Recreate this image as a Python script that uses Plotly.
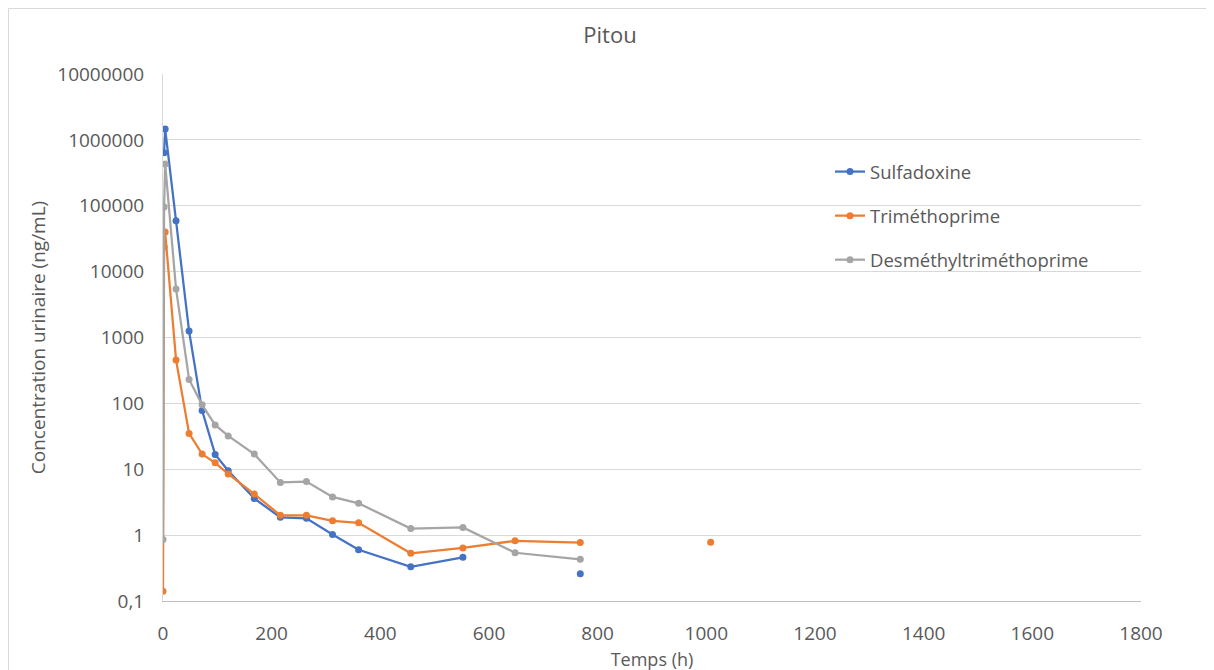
import plotly.graph_objects as go

# Data (time in hours, urinary concentration in ng/mL)
temps = [0, 2, 4, 24, 48, 72, 96, 120, 168, 216, 264, 312, 360, 456, 552, 648, 768, 864, 1008]
sulfadoxine = [None, 640000, 1460000, 59000, 1250, 78, 16.8, 9.5, 3.6, 1.86, 1.8, 1.02, 0.6, 0.33, 0.46, None, 0.26, None, None]
trimethoprime = [0.14, 23800, 39800, 457, 35, 17, 12.5, 8.5, 4.2, 2.0, 2.0, 1.65, 1.54, 0.53, 0.64, 0.82, 0.77, None, 0.78]
desmethyl = [0.86, 96000, 430000, 5450, 231, 95, 47, 32, 17, 6.3, 6.5, 3.8, 3.04, 1.26, 1.31, 0.54, 0.43, None, None]

series_names = ["Sulfadoxine", "Triméthoprime", "Desméthyltriméthoprime"]
series_colors = ["#4472C4", "#ED7D31", "#A5A5A5"]

y_tickvals = [0.1, 1, 10, 100, 1000, 10000, 100000, 1000000, 10000000]
y_ticktext = ["0,1", "1", "10", "100", "1000", "10000", "100000", "1000000", "10000000"]
x_tickvals = [0, 200, 400, 600, 800, 1000, 1200, 1400, 1600, 1800]

FONT = "Open Sans"
TXT = "#595959"

W, H = 1214, 670
ML, MR, MT, MB = 155, 81, 66, 77
PW, PH = W - ML - MR, H - MT - MB

fig = go.Figure()
for i, (name, vals, col) in enumerate(zip(series_names, [sulfadoxine, trimethoprime, desmethyl], series_colors)):
    fig.add_trace(go.Scatter(
        x=temps, y=vals, name=name, mode="lines+markers",
        line=dict(color=col, width=2.25),
        marker=dict(color=col, size=7),
        connectgaps=False,
        legendgroup=f"g{i}",
    ))

fig.update_layout(
    width=W, height=H,
    margin=dict(l=ML, r=MR, t=MT, b=MB),
    paper_bgcolor="white", plot_bgcolor="white",
    font=dict(family=FONT, color=TXT, size=19),
    title=dict(text="Pitou", x=602 / W, xanchor="center", y=1 - 27 / H, yanchor="middle",
               font=dict(size=22, color=TXT, family=FONT)),
    showlegend=True,
    legend=dict(x=(822 - ML) / PW, y=0.85, xanchor="left", yanchor="top",
                font=dict(size=18.5, color=TXT, family=FONT),
                tracegroupgap=17, bgcolor="rgba(0,0,0,0)", itemwidth=30),
    xaxis=dict(range=[0, 1800], tickvals=x_tickvals, showgrid=False, zeroline=False,
               showline=True, linecolor="#BFBFBF", linewidth=1,
               ticks="", ticklabelstandoff=15,
               tickfont=dict(size=19, color=TXT, family=FONT),
               title=dict(text="Temps (h)", standoff=8, font=dict(size=18, color=TXT, family=FONT))),
    yaxis=dict(type="log", range=[-1, 7], tickvals=y_tickvals, ticktext=y_ticktext,
               showgrid=True, gridcolor="#D9D9D9", gridwidth=1, zeroline=False,
               showline=True, linecolor="#D9D9D9", linewidth=1,
               ticks="", ticklabelstandoff=14,
               tickfont=dict(size=19, color=TXT, family=FONT),
               title=dict(text="Concentration urinaire (ng/mL)", standoff=6,
                          font=dict(size=19, color=TXT, family=FONT))),
    shapes=[dict(type="rect", xref="paper", yref="paper",
                 x0=(0.5 - ML) / PW, x1=(1199 - ML) / PW,
                 y0=-(MB - 0.5) / PH,
                 y1=1 + (MT - 0.5) / PH,
                 line=dict(color="#D9D9D9", width=1), fillcolor="rgba(0,0,0,0)", layer="below")],
)

fig.write_html("out.html")
